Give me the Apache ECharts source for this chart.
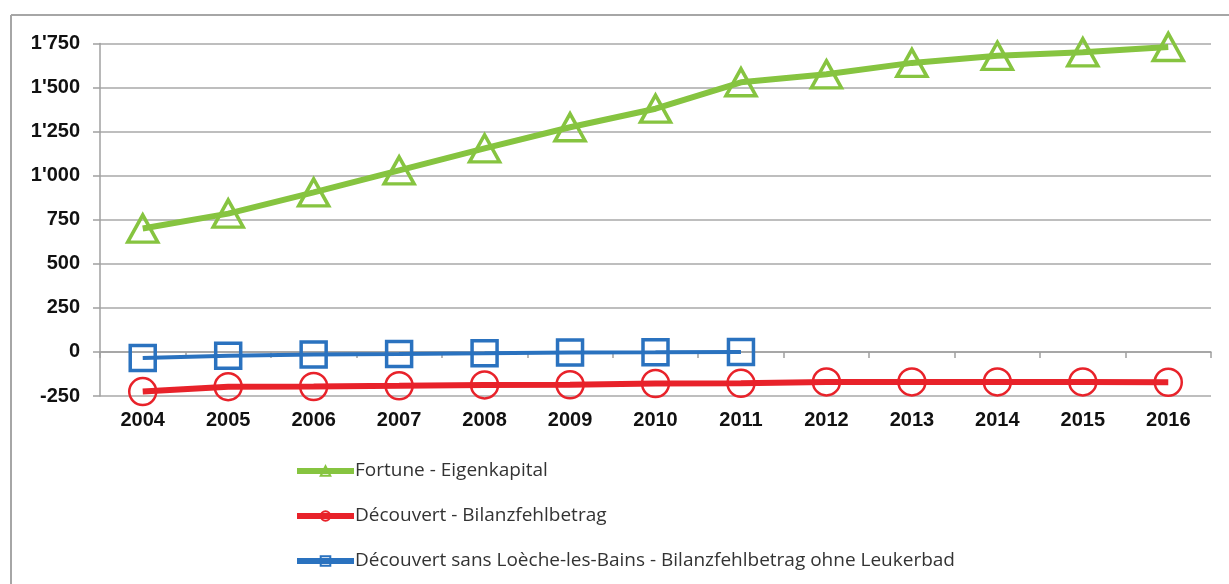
<!DOCTYPE html>
<html>
<head>
<meta charset="utf-8">
<script src="https://cdn.jsdelivr.net/npm/echarts@6/dist/echarts.min.js"></script>
<style>html,body{margin:0;padding:0;background:#fff;}#c{width:1229px;height:584px;}</style>
</head>
<body>
<div id="c"></div>
<script>
const years = ['2004','2005','2006','2007','2008','2009','2010','2011','2012','2013','2014','2015','2016'];
const fortune = [700, 785, 905, 1030, 1155, 1275, 1380, 1530, 1575, 1640, 1680, 1700, 1730];
const decouvert = [-225, -197, -196, -192, -187, -186, -179, -178, -170, -170, -170, -170, -172];
const sansLoeche = [-35, -22, -15, -12, -8, -3, -2, 0];
const yTicks = {min: -250, max: 1750, interval: 250};
const names = ['Fortune - Eigenkapital', 'Découvert - Bilanzfehlbetrag', 'Découvert sans Loèche-les-Bains - Bilanzfehlbetrag ohne Leukerbad'];

const chart = echarts.init(document.getElementById('c'));
const fmt = v => {
  const s = String(Math.abs(v));
  const t = s.replace(/\B(?=(\d{3})+(?!\d))/g, "'");
  return (v < 0 ? '-' : '') + t;
};
const labelFont = {fontFamily: 'Liberation Sans, Arial', fontWeight: 'bold', fontSize: 20, color: '#111'};
chart.setOption({
  animation: false,
  backgroundColor: '#fff',
  grid: {left: 100, right: 18, top: 43.5, bottom: 188},
  graphic: [
    {type: 'line', shape: {x1: 11, y1: 15, x2: 1229, y2: 15}, style: {stroke: '#a6a6a6', lineWidth: 2}},
    {type: 'line', shape: {x1: 11, y1: 15, x2: 11, y2: 584}, style: {stroke: '#a6a6a6', lineWidth: 2}}
  ],
  legend: {
    orient: 'vertical', left: 289, top: 455,
    itemWidth: 57, itemHeight: 12, itemGap: 23,
    lineStyle: {width: 6},
    textStyle: {fontFamily: 'Open Sans', fontSize: 19, color: '#333', lineHeight: 22, padding: [0,0,0,-4]},
    data: names
  },
  xAxis: [
    {type: 'category', data: years, axisLine: {onZero: true, lineStyle: {color: '#a0a0a0', width: 1.5}},
     axisTick: {show: true, length: 6, lineStyle: {color: '#a0a0a0', width: 1.5}}, axisLabel: {show: false}},
    {type: 'category', data: years, position: 'bottom', axisLine: {show: false, onZero: false},
     axisTick: {show: false}, axisLabel: Object.assign({margin: 14}, labelFont)}
  ],
  yAxis: {
    type: 'value', min: yTicks.min, max: yTicks.max, interval: yTicks.interval,
    axisLine: {show: true, lineStyle: {color: '#a0a0a0', width: 1.5}},
    axisTick: {show: true, length: 7, lineStyle: {color: '#a0a0a0', width: 1.5}},
    splitLine: {lineStyle: {color: '#a8a8a8', width: 1.5}},
    axisLabel: Object.assign({margin: 20, formatter: fmt}, labelFont)
  },
  series: [
    {name: names[0], type: 'line', data: fortune, symbol: 'triangle', symbolSize: [30, 27],
     lineStyle: {color: '#86c440', width: 6},
     itemStyle: {color: 'rgba(255,255,255,0)', borderColor: '#86c440', borderWidth: 3.5}},
    {name: names[1], type: 'line', data: decouvert, symbol: 'circle', symbolSize: 27,
     lineStyle: {color: '#e8222a', width: 6},
     itemStyle: {color: 'rgba(255,255,255,0)', borderColor: '#e8222a', borderWidth: 2.5}},
    {name: names[2], type: 'line', data: sansLoeche, symbol: 'rect', symbolSize: 25,
     lineStyle: {color: '#2a72bf', width: 4},
     itemStyle: {color: 'rgba(255,255,255,0)', borderColor: '#2a72bf', borderWidth: 3.5}}
  ]
});
</script>
</body>
</html>
